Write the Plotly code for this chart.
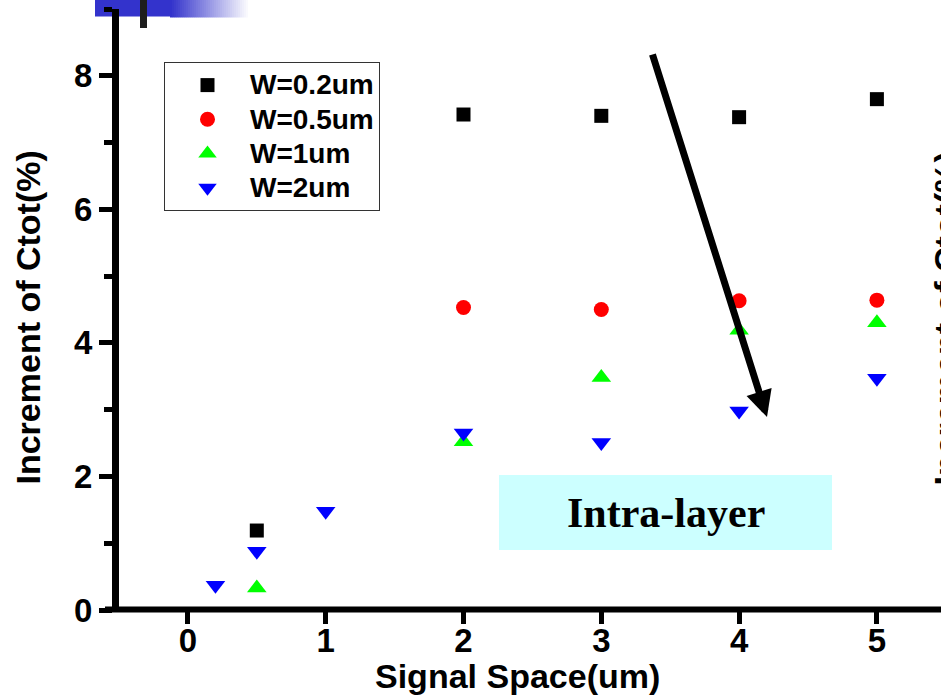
import plotly.graph_objects as go

# ---- data ----
x_w02 = [0.5, 2, 3, 4, 5]
y_w02 = [1.19, 7.42, 7.40, 7.38, 7.65]
x_w05 = [2, 3, 4, 5]
y_w05 = [4.53, 4.50, 4.63, 4.64]
x_w1 = [0.5, 2, 3, 4, 5]
y_w1 = [0.33, 2.52, 3.48, 4.19, 4.30]
x_w2 = [0.2, 0.5, 1, 2, 3, 4, 5]
y_w2 = [0.37, 0.88, 1.48, 2.65, 2.51, 2.98, 3.47]
names = ["W=0.2um", "W=0.5um", "W=1um", "W=2um"]
x_ticks = [0, 1, 2, 3, 4, 5]
y_ticks = [0, 2, 4, 6, 8]
x_title = "Signal Space(um)"
y_title = "Increment of Ctot(%)"

W, H = 941, 695
ML, MR, MT, MB = 119, 0, 9, 85
PW, PH = W - ML - MR, H - MT - MB
XR = [-0.5, -0.5 + PW / 137.8]
YR = [0, 9]


def px(xp):
    return (xp - ML) / PW


def py(yp):
    return (H - MB - yp) / PH


def dx(xp):
    return XR[0] + (xp - ML) / PW * (XR[1] - XR[0])


def dy(yp):
    return YR[0] + (H - MB - yp) / PH * (YR[1] - YR[0])


FONT = "Liberation Sans"


def bfont(size):
    return dict(family=FONT, size=size, color="black", weight="bold")


def lg(name):
    return f'<span style="font-size:28px">{name}</span>'


fig = go.Figure()
fig.add_trace(go.Scatter(x=x_w02, y=y_w02, mode="markers", name=lg(names[0]),
                         marker=dict(symbol="square", size=14, color="black")))
fig.add_trace(go.Scatter(x=x_w05, y=y_w05, mode="markers", name=lg(names[1]),
                         marker=dict(symbol="circle", size=15, color="#FF0000")))
fig.add_trace(go.Scatter(x=x_w1, y=y_w1, mode="markers", name=lg(names[2]),
                         marker=dict(symbol="triangle-up", size=17, color="#00FF00")))
fig.add_trace(go.Scatter(x=x_w2, y=y_w2, mode="markers", name=lg(names[3]),
                         marker=dict(symbol="triangle-down", size=17, color="#0000FF")))

shapes = []
# Intra-layer box (below data)
shapes.append(dict(type="rect", xref="x", yref="y", x0=dx(499), x1=dx(832),
                   y0=dy(550), y1=dy(475), fillcolor="#CCFFFF", line=dict(width=0),
                   layer="below"))
# x axis line extending left past y axis
shapes.append(dict(type="line", xref="paper", yref="paper", x0=px(105), x1=px(945),
                   y0=py(609.5), y1=py(609.5), line=dict(color="black", width=6)))
# top-left decoration: solid blue block + gradient
shapes.append(dict(type="rect", xref="paper", yref="paper", x0=px(95), x1=px(171),
                   y0=py(16.5), y1=py(-2), fillcolor="#3333CC", line=dict(width=0),
                   layer="below"))
n = 40
for i in range(n):
    t = i / (n - 1)
    r = int(0x33 + (255 - 0x33) * t)
    g = int(0x33 + (255 - 0x33) * t)
    b = int(0xCC + (255 - 0xCC) * t)
    xa = 170 + i * 2
    shapes.append(dict(type="rect", xref="paper", yref="paper", x0=px(xa), x1=px(xa + 2.2),
                       y0=py(17.5), y1=py(-2), fillcolor=f"rgb({r},{g},{b})",
                       line=dict(width=0), layer="below"))
shapes.append(dict(type="rect", xref="paper", yref="paper", x0=px(140), x1=px(147),
                   y0=py(28), y1=py(-2), fillcolor="#1E1E1E", line=dict(width=0)))

annotations = [
    dict(x=dx(666), y=dy(513), xref="x", yref="y", text="Intra-layer",
         showarrow=False,
         font=dict(family="Liberation Serif", size=42, color="black", weight="bold")),
    dict(x=dx(767), y=dy(417), ax=dx(652), ay=dy(53), xref="x", yref="y",
         axref="x", ayref="y", text="", showarrow=True, arrowhead=2,
         arrowwidth=7, arrowsize=0.75, arrowcolor="black"),
    # x axis title
    dict(x=px(517), y=py(676), xref="paper", yref="paper", text=x_title,
         showarrow=False, xanchor="center", yanchor="middle", font=bfont(34)),
    # y axis title
    dict(x=px(27.5), y=py(318), xref="paper", yref="paper", text=y_title,
         showarrow=False, textangle=-90, xanchor="center", yanchor="middle",
         font=bfont(34)),
    # right-hand axis title (cut by the picture edge)
    dict(x=px(945.5), y=py(319), xref="paper", yref="paper", text=y_title,
         showarrow=False, textangle=-90, xanchor="center", yanchor="middle",
         font=bfont(34)),
]

fig.update_layout(
    width=W, height=H,
    margin=dict(l=ML, r=MR, t=MT, b=MB, autoexpand=False),
    paper_bgcolor="white", plot_bgcolor="white",
    shapes=shapes, annotations=annotations,
    showlegend=True,
    legend=dict(x=px(164), y=py(62), xanchor="left", yanchor="top",
                bgcolor="white", bordercolor="#333333", borderwidth=1,
                font=bfont(24), itemwidth=75, tracegroupgap=0),
    xaxis=dict(range=XR, tickvals=x_ticks, ticktext=[str(v) for v in x_ticks],
               showgrid=False, zeroline=False, showline=False,
               ticks="outside", ticklen=13, tickwidth=5, tickcolor="black",
               ticklabelstandoff=-12,
               tickfont=bfont(33)),
    yaxis=dict(range=YR, tickvals=y_ticks, ticktext=[str(v) for v in y_ticks],
               showgrid=False, zeroline=False, showline=True, linecolor="black",
               linewidth=7, mirror=False,
               ticks="outside", ticklen=13, tickwidth=5, tickcolor="black",
               minor=dict(dtick=1, tick0=0, ticks="outside", ticklen=8, tickwidth=5,
                          tickcolor="black", showgrid=False),
               tickfont=bfont(33)),
)

fig.write_html("out.html")
